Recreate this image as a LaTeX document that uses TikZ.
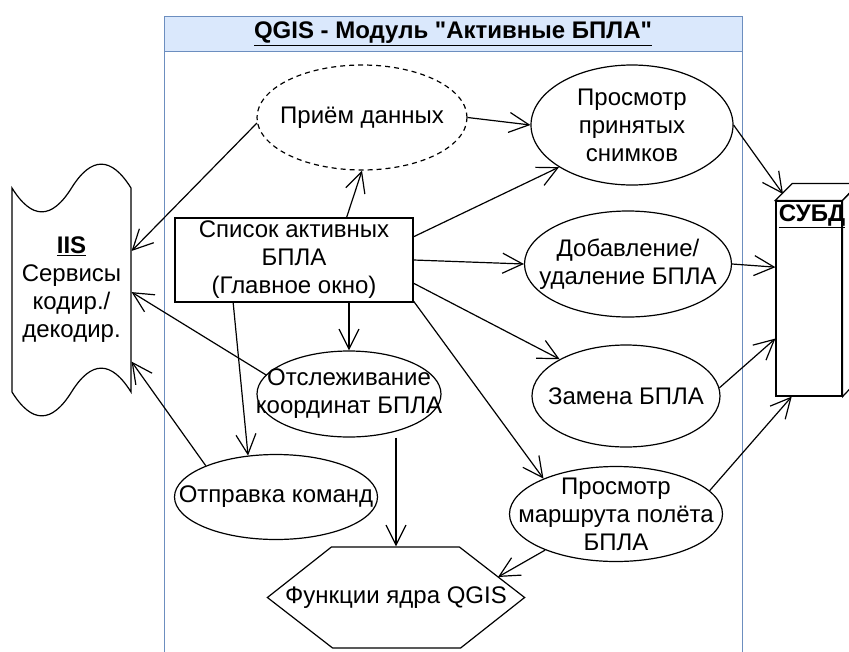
\documentclass[tikz,border=0pt]{standalone}
\usepackage{fontspec}
\setmainfont{Liberation Sans}[Ligatures = TeXOff]
\usepackage{tikz}
\usetikzlibrary{shapes.geometric}
\usetikzlibrary{arrows.meta}
\usepackage{xcolor}

\definecolor{lanefill}{RGB}{218,232,252}
\definecolor{laneline}{RGB}{108,142,191}

\begin{document}
\begin{tikzpicture}[x = 1pt, y = -1pt, line width = 1.2pt,
        font = \fontsize{24}{28}\selectfont,
        oval/.style = {draw, fill = white, ellipse, inner sep = 0pt},
        arr/.style = {-{Straight Barb[length = 20pt, width = 20pt]}}]

        \useasboundingbox (0,0) rectangle (849,651);

        \begin{scope}[line width = 1pt]
        \filldraw[fill = white, draw = laneline] (164,51) rectangle (742,670);
        \filldraw[fill = lanefill, draw = laneline] (164,16) rectangle (742,51);
        \node[font = \fontsize{24}{28}\bfseries] (title) at (453,33.5) {\underline{QGIS - Модуль "Активные БПЛА"}};
        \end{scope}

        \filldraw[fill = white] (12,188) .. controls (31.8,219.8) and (51.7,219.8) .. (71.5,188)
                .. controls (91.3,156.2) and (111.2,156.2) .. (131,188) -- (131,392)
                .. controls (111.2,360.2) and (91.3,360.2) .. (71.5,392)
                .. controls (51.7,423.8) and (31.8,423.8) .. (12,392) -- cycle;
        \node[align = center, minimum width = 119pt, minimum height = 204pt] (iis) at (71.5,290) {\underline{\textbf{IIS}}\\Сервисы\\кодир./\\декодир.};

        \node[draw, fill = white, minimum width = 66pt, minimum height = 195pt, inner sep = 0pt] (dbms) at (809,298.5) {};
        \filldraw[fill = white] (dbms.north west) -- ++(17,-17) -- ++(66,0) -- (dbms.north east) -- cycle;
        \filldraw[fill = white] (dbms.north east) -- ++(17,-17) -- ++(0,195) -- (dbms.south east) -- cycle;
        \node[anchor = north, font = \fontsize{24}{28}\bfseries, xshift = 3pt] (dbtext) at (dbms.north) {\underline{СУБД}};
        \coordinate (dbcorner) at (783,194);

        \node[oval, dash pattern = on 5pt off 4pt, minimum width = 210pt, minimum height = 105pt,
                label = center:Приём данных] (recv) at (362,117.5) {};
        \node[oval, minimum width = 202pt, minimum height = 120pt,
                label = {[align = center]center:{Просмотр\\принятых\\снимков}}] (photos) at (632,125) {};
        \node[oval, minimum width = 207pt, minimum height = 106pt,
                label = {[align = center]center:{Добавление/\\удаление БПЛА}}] (add) at (628,264) {};
        \node[oval, minimum width = 188pt, minimum height = 102pt,
                label = center:Замена БПЛА] (repl) at (626,396) {};
        \node[oval, minimum width = 213pt, minimum height = 95pt,
                label = {[align = center]center:{Просмотр\\маршрута полёта\\БПЛА}}] (route) at (616,514) {};
        \node[oval, minimum width = 184pt, minimum height = 86pt,
                label = {[align = center]center:{Отслеживание\\координат БПЛА}}] (track) at (349,394) {};
        \node[oval, minimum width = 203pt, minimum height = 85pt,
                label = center:Отправка команд] (send) at (276,497) {};

        \node[draw, fill = white, align = center, inner sep = 0pt, minimum width = 238pt, minimum height = 84pt] (list) at (294,260) {Список активных\\БПЛА\\(Главное окно)};

        \node[inner sep = 0pt, minimum width = 256pt, minimum height = 101pt] (core) at (396,597.5) {};
        \filldraw[fill = white] (core.west) -- ++(64,-50.5) -- ++(128,0) -- (core.east) -- ++(-64,50.5) -- ++(-128,0) -- cycle;
        \node (coretext) at (core) {Функции ядра QGIS};
        \coordinate (coreedge) at (498,577);

        \draw[arr] (recv.183) -- (iis.33);
        \draw[arr] (recv.east) -- (photos.west);
        \draw[arr] (list.39.5) -- (recv.south);
        \draw[arr] (list.11) -- (photos.210);
        \draw[arr] (list.east) -- (add.west);
        \draw[arr] (list.-11) -- (repl.151);
        \draw[arr] (list.-19) -- (route.154);
        \draw[arr] (track.north |- list.south) -- (track.north);
        \draw[arr] (list.215) -- (send.124);
        \draw[arr] (track.167) -- (iis.-2);
        \draw[arr] (send.156) -- (iis.-50);
        \draw[arr] (core.north |- track.south) -- (core.north);
        \draw[arr] (route.207) -- (coreedge);
        \draw[arr] (photos.east) -- (dbcorner);
        \draw[arr] (add.east) -- (dbms.137);
        \draw[arr] (repl.5) -- (dbms.230);
        \draw[arr] (route.14) -- (dbms.260);
    \end{tikzpicture}
\end{document}
